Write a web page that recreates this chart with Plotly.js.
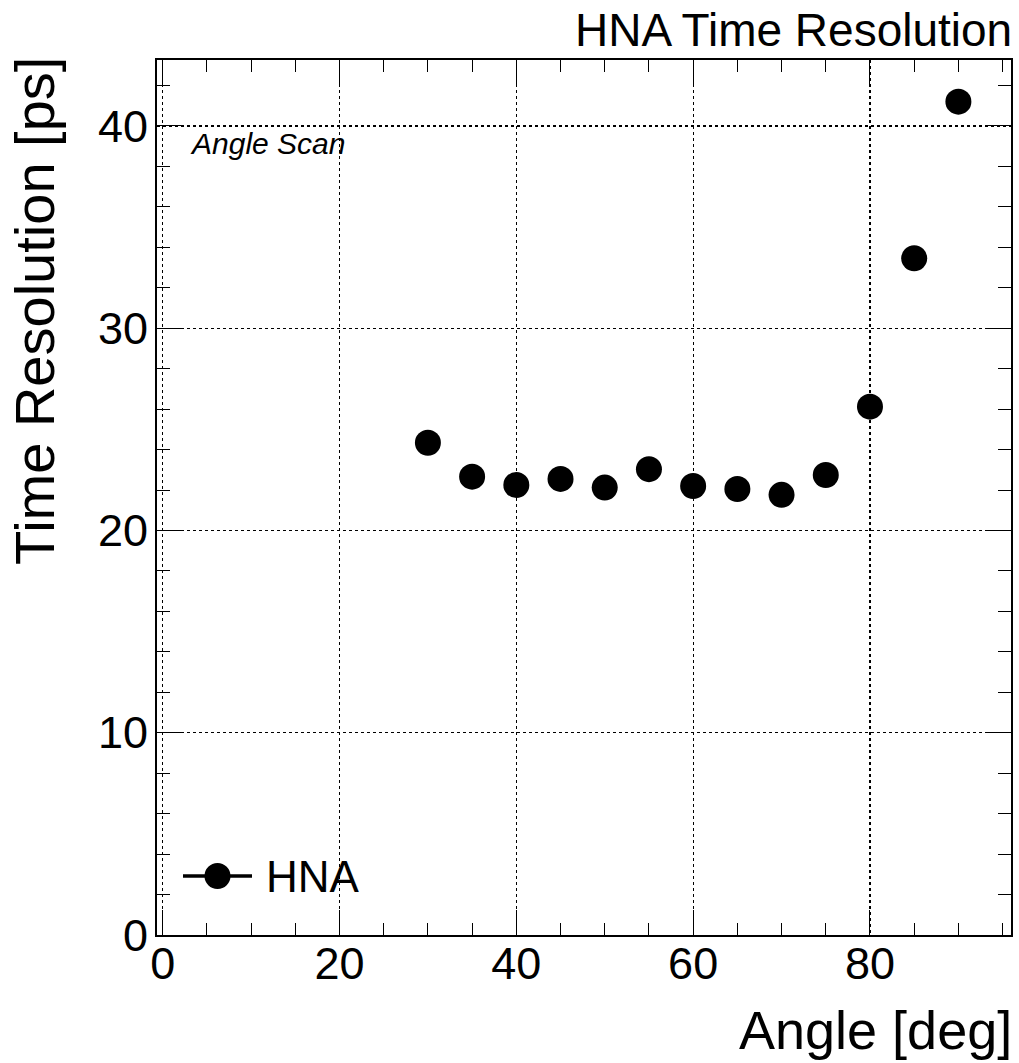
<!DOCTYPE html>
<html>
<head>
<meta charset="utf-8">
<script src="https://cdn.plot.ly/plotly-3.0.1.min.js"></script>
<style>html,body{margin:0;padding:0;background:#fff;}</style>
</head>
<body>
<div id="chart" style="width:1019px;height:1063px;"></div>
<script>
// Data
const angles = [30, 35, 40, 45, 50, 55, 60, 65, 70, 75, 80, 85, 90];
const resolution = [24.34, 22.66, 22.25, 22.55, 22.12, 23.03, 22.2, 22.05, 21.76, 22.74, 26.12, 33.46, 41.2];
const seriesName = "HNA";
const chartTitle = "HNA Time Resolution";
const xTitle = "Angle [deg]";
const yTitle = "Time Resolution [ps]";
const noteText = "Angle Scan";
const xTickVals = [0, 20, 40, 60, 80];
const yTickVals = [0, 10, 20, 30, 40];

const FONT = "Liberation Sans, Arial, Helvetica, sans-serif";

const trace = {
  x: angles, y: resolution, type: 'scatter', mode: 'markers', name: seriesName,
  marker: {color: '#000', size: 26, symbol: 'circle'},
  showlegend: false, cliponaxis: false
};

// Legend sample placed in paper coordinates
const lx0 = (183 - 157) / 854, lx1 = (252 - 157) / 854, lxm = (217.5 - 157) / 854;
const ly = (935 - 876) / 875;

const layout = {
  width: 1019, height: 1063,
  margin: {l: 157, r: 8, t: 60, b: 128},
  paper_bgcolor: '#fff', plot_bgcolor: '#fff',
  font: {family: FONT, color: '#000'},
  showlegend: false,
  xaxis: {
    range: [-0.64, 95.95], tickvals: xTickVals, ticktext: xTickVals.map(String),
    ticks: 'inside', ticklen: 25, tickwidth: 1, tickcolor: '#000',
    showline: true, linecolor: '#000', linewidth: 2, mirror: 'ticks',
    showgrid: true, gridcolor: '#000', griddash: 'dot', gridwidth: 1.2,
    zeroline: false, tickfont: {size: 45, family: FONT}, ticklabelstandoff: -12,
    minor: {dtick: 5, tick0: 0, ticks: 'inside', ticklen: 12, tickcolor: '#000', tickwidth: 1, showgrid: false}
  },
  yaxis: {
    range: [0, 43.26], tickvals: yTickVals, ticktext: yTickVals.map(String),
    ticks: 'inside', ticklen: 26, tickwidth: 1, tickcolor: '#000',
    showline: true, linecolor: '#000', linewidth: 2, mirror: 'ticks',
    showgrid: true, gridcolor: '#000', griddash: 'dot', gridwidth: 1.2,
    zeroline: false, tickfont: {size: 45, family: FONT}, ticklabelstandoff: -2,
    minor: {dtick: 2, tick0: 0, ticks: 'inside', ticklen: 13, tickcolor: '#000', tickwidth: 1, showgrid: false}
  },
  shapes: [
    {type: 'line', xref: 'paper', yref: 'paper', x0: lx0, x1: lx1, y0: ly, y1: ly, line: {color: '#000', width: 3.5}},
    {type: 'circle', xref: 'paper', yref: 'paper', xsizemode: 'pixel', ysizemode: 'pixel',
     xanchor: lxm, yanchor: ly, x0: -13, x1: 13, y0: -13, y1: 13, fillcolor: '#000', line: {color: '#000', width: 0}}
  ],
  annotations: [
    {text: chartTitle, xref: 'paper', yref: 'paper', x: 1.003, y: 1 + (60 - 30) / 875,
     xanchor: 'right', yanchor: 'middle', showarrow: false, font: {size: 46, family: FONT}},
    {text: xTitle, xref: 'paper', yref: 'paper', x: 1.003, y: -(1030 - 935) / 875,
     xanchor: 'right', yanchor: 'middle', showarrow: false, font: {size: 54, family: FONT}},
    {text: yTitle, xref: 'paper', yref: 'paper', x: (35 - 157) / 854, y: 1 + (60 - 55) / 875,
     xanchor: 'center', yanchor: 'top', textangle: -90, showarrow: false, font: {size: 56, family: FONT}},
    {text: '<i>' + noteText + '</i>', xref: 'paper', yref: 'paper', x: (188 - 157) / 854, y: (935 - 143) / 875,
     xanchor: 'left', yanchor: 'middle', showarrow: false, font: {size: 30, family: FONT}},
    {text: seriesName, xref: 'paper', yref: 'paper', x: (264 - 157) / 854, y: ly,
     xanchor: 'left', yanchor: 'middle', showarrow: false, font: {size: 44, family: FONT}}
  ]
};

Plotly.newPlot('chart', [trace], layout, {displayModeBar: false, staticPlot: true});
</script>
</body>
</html>
